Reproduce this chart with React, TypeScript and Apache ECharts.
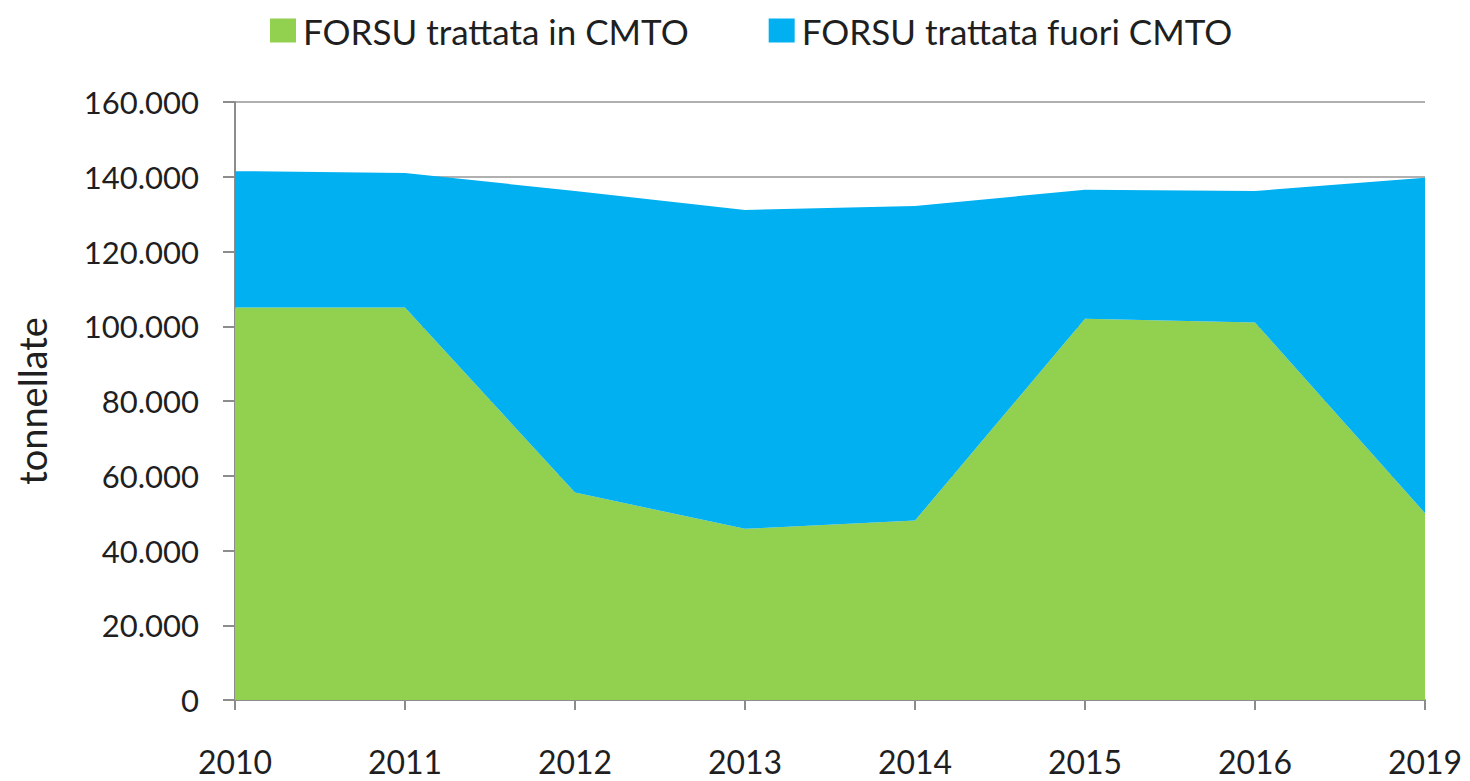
import React, { useEffect, useRef } from "react";
import * as echarts from "echarts";

const categories = ["2010", "2011", "2012", "2013", "2014", "2015", "2016", "2019"];
const inCMTO = [105000, 105000, 55500, 45800, 48000, 102000, 101000, 50000];
const fuoriCMTO = [36500, 36000, 80700, 85300, 84200, 34500, 35200, 89700];
const seriesNames = ["FORSU trattata in CMTO", "FORSU trattata fuori CMTO"];
const yAxisName = "tonnellate";

const FONT = "Lato, 'Open Sans', sans-serif";
const TEXT = "#1f1f1f";
const AXIS = "#8c8c8c";

function fmt(v: number): string {
  return String(v).replace(/\B(?=(\d{3})+(?!\d))/g, ".");
}

export default function App() {
  const ref = useRef<HTMLDivElement>(null);
  useEffect(() => {
    if (!ref.current) return;
    const chart = echarts.init(ref.current, undefined, { renderer: "svg" });
    chart.setOption({
      animation: false,
      backgroundColor: "#ffffff",
      textStyle: { fontFamily: FONT },
      legend: {
        top: 8,
        left: 265,
        itemWidth: 26,
        itemHeight: 24,
        itemGap: 80,
        icon: "rect",
        textStyle: { fontFamily: FONT, fontSize: 35, color: TEXT, padding: [0, 0, 0, 2] },
        data: seriesNames,
      },
      grid: { left: 235, right: 45, top: 102, bottom: 81, containLabel: false },
      xAxis: {
        type: "category",
        data: categories,
        boundaryGap: false,
        axisLine: { lineStyle: { color: AXIS, width: 2 } },
        axisTick: { show: true, length: 10, lineStyle: { color: AXIS, width: 2 } },
        axisLabel: { fontFamily: FONT, fontSize: 32, color: TEXT, margin: 45 },
        splitLine: { show: false },
      },
      yAxis: {
        type: "value",
        min: 0,
        max: 160000,
        interval: 20000,
        name: yAxisName,
        nameLocation: "middle",
        nameGap: 184,
        nameRotate: 90,
        nameTextStyle: { fontFamily: FONT, fontSize: 38, color: TEXT },
        axisLine: { show: true, lineStyle: { color: AXIS, width: 2 } },
        axisTick: { show: true, length: 12, lineStyle: { color: AXIS, width: 2 } },
        axisLabel: { fontFamily: FONT, fontSize: 31, color: TEXT, margin: 36, formatter: (v: number) => fmt(v) },
        splitLine: { show: true, lineStyle: { color: "#b0b0b0", width: 2 } },
      },
      series: [
        {
          name: seriesNames[0],
          type: "line",
          stack: "total",
          data: inCMTO,
          symbol: "none",
          lineStyle: { width: 0 },
          itemStyle: { color: "#92D050" },
          areaStyle: { color: "#92D050", opacity: 1 },
        },
        {
          name: seriesNames[1],
          type: "line",
          stack: "total",
          data: fuoriCMTO,
          symbol: "none",
          lineStyle: { width: 0 },
          itemStyle: { color: "#00B0F0" },
          areaStyle: { color: "#00B0F0", opacity: 1 },
        },
      ],
    });
    return () => chart.dispose();
  }, []);
  return <div ref={ref} style={{ position: "fixed", left: 0, top: 0, width: 1470, height: 781 }} />;
}
